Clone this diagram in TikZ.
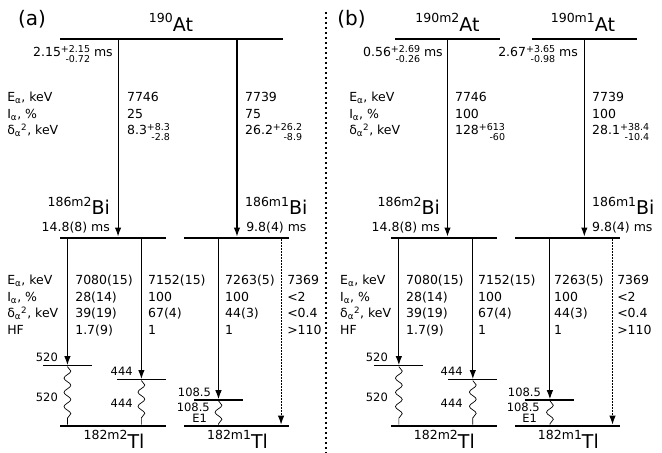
\documentclass[tikz,border=0pt]{standalone}
\usepackage{fontspec}
\setmainfont{DejaVu Sans}
\usetikzlibrary{decorations.pathmorphing, arrows.meta}

\tikzstyle{level}=[rectangle, fill=black, inner sep=0pt, minimum height=2.2pt]
\tikzstyle{sublevel}=[rectangle, fill=black, inner sep=0pt, minimum height=1.1pt, minimum width=1.72cm]
\tikzstyle{alpha_decay}=[-{Latex[length=9pt, width=6.5pt]}, line width=1.1pt]
\tikzstyle{weak_decay}=[-{Latex[length=9pt, width=6.5pt]}, line width=1pt, dash pattern=on 1.5pt off 1.5pt]
\tikzstyle{gamma_ray}=[decorate, decoration={snake, amplitude=0.12cm, segment length=0.5cm}, line width=0.7pt]
\tikzstyle{separator}=[line width=1.6pt, dash pattern=on 2pt off 3pt]
\tikzstyle{data_text}=[inner sep=0pt, align=left, font=\fontsize{12.5}{16.5}\selectfont]
\tikzstyle{small_text}=[inner sep=0pt, font=\fontsize{11.5}{13}\selectfont]
\tikzstyle{panel_text}=[inner sep=0pt, font=\fontsize{20}{24}\selectfont]

\newcommand{\nucl}[2]{\raisebox{8.5pt}{#1}{\fontsize{19}{22}\selectfont #2}}
\newcommand{\asym}[2]{{\fontsize{9.5}{10}\selectfont\setbox0\hbox{#1}\setbox2\hbox{#2}%
    \ifdim\wd0>\wd2 \dimen0=\wd0 \else \dimen0=\wd2 \fi
    \hspace{\dimen0}\llap{\raise4.5pt\box0}\llap{\lower6pt\box2}}}

\begin{document}
\begin{tikzpicture}
    \useasboundingbox (0cm, 0cm) rectangle (23.27cm, 15.92cm);
    % ---------------------------------------------------------------------------------------------------------
    %  (a) 190At
    \node at (0.63cm, 15.01cm) (panel-a) [panel_text, anchor=base west] {(a)};
    \node at (6.03cm, 14.55cm) (AtA) [level, minimum width=7.84cm] {};
    \node at (6.01cm, 14.82cm) (AtA-name) [data_text, anchor=base] {\nucl{190}{At}};
    \node at (3.97cm, 13.92cm) (AtA-life) [data_text, anchor=base east] {2.15\asym{+2.15}{-0.72} ms};

    \node at (0.25cm, 11.18cm) (AtA-keys) [data_text, anchor=base west] {E\textsubscript{α}, keV\\I\textsubscript{α}, \%\\δ\textsubscript{α}\textsuperscript{2}, keV};
    \node at (4.46cm, 11.18cm) (AtA-val1) [data_text, anchor=base west] {7746\\25\\8.3\asym{+8.3}{-2.8}};
    \node at (8.61cm, 11.18cm) (AtA-val2) [data_text, anchor=base west] {7739\\75\\26.2\asym{+26.2}{-8.9}};

    \node at (3.97cm, 7.56cm) (BiTwoA) [level, minimum width=3.73cm] {};
    \node at (8.31cm, 7.56cm) (BiOneA) [level, minimum width=3.69cm] {};
    \node at (3.87cm, 8.37cm) (BiTwoA-name) [data_text, anchor=base east] {\nucl{186m2}{Bi}};
    \node at (3.87cm, 7.80cm) (BiTwoA-life) [data_text, anchor=base east] {14.8(8) ms};
    \node at (8.61cm, 8.37cm) (BiOneA-name) [data_text, anchor=base west] {\nucl{186m1}{Bi}};
    \node at (8.65cm, 7.80cm) (BiOneA-life) [data_text, anchor=base west] {9.8(4) ms};

    \coordinate (a-x1) at (4.15cm, 0cm);
    \coordinate (a-x2) at (8.33cm, 0cm);
    \coordinate (a-x3) at (9.88cm, 0cm);
    \draw[alpha_decay] (AtA.south -| a-x1) -- (BiTwoA.north -| a-x1);
    \draw[alpha_decay] (AtA.south -| a-x2) -- (BiOneA.north -| a-x2);

    % 186Bi -> 182Tl
    \node at (0.25cm, 4.165cm) (BiA-keys) [data_text, anchor=base west] {E\textsubscript{α}, keV\\I\textsubscript{α}, \%\\δ\textsubscript{α}\textsuperscript{2}, keV\\HF};
    \node at (2.64cm, 4.165cm) (BiA-val1) [data_text, anchor=base west] {7080(15)\\28(14)\\39(19)\\1.7(9)};
    \node at (5.20cm, 4.165cm) (BiA-val2) [data_text, anchor=base west] {7152(15)\\100\\67(4)\\1};
    \node at (7.91cm, 4.165cm) (BiA-val3) [data_text, anchor=base west] {7263(5)\\100\\44(3)\\1};
    \node at (10.09cm, 4.165cm) (BiA-val4) [data_text, anchor=base west] {7369\\<2\\<0.4\\>110};

    \node at (3.97cm, 0.95cm) (TlTwoA) [level, minimum width=3.73cm] {};
    \node at (8.31cm, 0.95cm) (TlOneA) [level, minimum width=3.69cm] {};
    \node at (4.01cm, 0.16cm) (TlTwoA-name) [data_text, anchor=base] {\nucl{182m2}{Tl}};
    \node at (8.35cm, 0.16cm) (TlOneA-name) [data_text, anchor=base] {\nucl{182m1}{Tl}};

    \node at (2.37cm, 3.06cm) (ExA520) [sublevel] {};
    \node at (4.97cm, 2.57cm) (ExA444) [sublevel] {};
    \node at (7.68cm, 1.86cm) (ExA108) [sublevel] {};
    \node at (2.04cm, 3.20cm) (ExA520-e) [small_text, anchor=base east] {520};
    \node at (4.67cm, 2.71cm) (ExA444-e) [small_text, anchor=base east] {444};
    \node at (7.42cm, 1.97cm) (ExA108-e) [small_text, anchor=base east] {108.5};
    \node at (2.04cm, 1.97cm) (GaA520) [small_text, anchor=east] {520};
    \node at (4.67cm, 1.76cm) (GaA444) [small_text, anchor=east] {444};
    \node at (7.38cm, 1.60cm) (GaA108) [small_text, anchor=east] {108.5};
    \node at (7.28cm, 1.23cm) (GaA108-m) [small_text, anchor=east] {E1};

    \draw[alpha_decay] (BiTwoA.south -| ExA520) -- (ExA520.north);
    \draw[alpha_decay] (BiTwoA.south -| ExA444) -- (ExA444.north);
    \draw[alpha_decay] (BiOneA.south -| ExA108) -- (ExA108.north);
    \draw[weak_decay] (BiOneA.south -| a-x3) -- (TlOneA.north -| a-x3);
    \draw[gamma_ray] (ExA520.south) -- (TlTwoA.north -| ExA520);
    \draw[gamma_ray] (ExA444.south) -- (TlTwoA.north -| ExA444);
    \draw[gamma_ray] (ExA108.south) -- (TlOneA.north -| ExA108);

    % ---------------------------------------------------------------------------------------------------------
    \coordinate (sep-top) at (11.46cm, 15.5cm);
    \coordinate (sep-bot) at (11.46cm, 0cm);
    \draw[separator] (sep-top) -- (sep-bot);

    % ---------------------------------------------------------------------------------------------------------
    %  (b) 190m2At, 190m1At
    \node at (11.85cm, 15.01cm) (panel-b) [panel_text, anchor=base west] {(b)};
    \node at (15.73cm, 14.55cm) (AtTwoB) [level, minimum width=3.69cm] {};
    \node at (20.54cm, 14.55cm) (AtOneB) [level, minimum width=3.69cm] {};
    \node at (15.73cm, 14.82cm) (AtTwoB-name) [data_text, anchor=base] {\nucl{190m2}{At}};
    \node at (20.49cm, 14.82cm) (AtOneB-name) [data_text, anchor=base] {\nucl{190m1}{At}};
    \node at (15.57cm, 13.92cm) (AtTwoB-life) [data_text, anchor=base east] {0.56\asym{+2.69}{-0.26} ms};
    \node at (20.32cm, 13.92cm) (AtOneB-life) [data_text, anchor=base east] {2.67\asym{+3.65}{-0.98} ms};

    \node at (12.27cm, 11.18cm) (AtB-keys) [data_text, anchor=base west] {E\textsubscript{α}, keV\\I\textsubscript{α}, \%\\δ\textsubscript{α}\textsuperscript{2}, keV};
    \node at (15.99cm, 11.18cm) (AtB-val1) [data_text, anchor=base west] {7746\\100\\128\asym{+613}{-60}};
    \node at (20.81cm, 11.18cm) (AtB-val2) [data_text, anchor=base west] {7739\\100\\28.1\asym{+38.4}{-10.4}};

    \node at (15.62cm, 7.56cm) (BiTwoB) [level, minimum width=3.73cm] {};
    \node at (19.96cm, 7.56cm) (BiOneB) [level, minimum width=3.69cm] {};
    \node at (15.47cm, 8.37cm) (BiTwoB-name) [data_text, anchor=base east] {\nucl{186m2}{Bi}};
    \node at (15.47cm, 7.80cm) (BiTwoB-life) [data_text, anchor=base east] {14.8(8) ms};
    \node at (20.81cm, 8.37cm) (BiOneB-name) [data_text, anchor=base west] {\nucl{186m1}{Bi}};
    \node at (20.81cm, 7.80cm) (BiOneB-life) [data_text, anchor=base west] {9.8(4) ms};

    \draw[alpha_decay] (AtTwoB.south) -- (BiTwoB.north -| AtTwoB);
    \draw[alpha_decay] (AtOneB.south) -- (BiOneB.north -| AtOneB);

    % 186Bi -> 182Tl
    \node at (11.95cm, 4.165cm) (BiB-keys) [data_text, anchor=base west] {E\textsubscript{α}, keV\\I\textsubscript{α}, \%\\δ\textsubscript{α}\textsuperscript{2}, keV\\HF};
    \node at (14.27cm, 4.165cm) (BiB-val1) [data_text, anchor=base west] {7080(15)\\28(14)\\39(19)\\1.7(9)};
    \node at (16.80cm, 4.165cm) (BiB-val2) [data_text, anchor=base west] {7152(15)\\100\\67(4)\\1};
    \node at (19.47cm, 4.165cm) (BiB-val3) [data_text, anchor=base west] {7263(5)\\100\\44(3)\\1};
    \node at (21.69cm, 4.165cm) (BiB-val4) [data_text, anchor=base west] {7369\\<2\\<0.4\\>110};

    \node at (15.62cm, 0.95cm) (TlTwoB) [level, minimum width=3.73cm] {};
    \node at (19.96cm, 0.95cm) (TlOneB) [level, minimum width=3.69cm] {};
    \node at (15.62cm, 0.16cm) (TlTwoB-name) [data_text, anchor=base] {\nucl{182m2}{Tl}};
    \node at (19.98cm, 0.16cm) (TlOneB-name) [data_text, anchor=base] {\nucl{182m1}{Tl}};

    \node at (14.02cm, 3.06cm) (ExB520) [sublevel] {};
    \node at (16.62cm, 2.57cm) (ExB444) [sublevel] {};
    \node at (19.33cm, 1.86cm) (ExB108) [sublevel] {};
    \node at (13.64cm, 3.20cm) (ExB520-e) [small_text, anchor=base east] {520};
    \node at (16.27cm, 2.71cm) (ExB444-e) [small_text, anchor=base east] {444};
    \node at (19.02cm, 1.97cm) (ExB108-e) [small_text, anchor=base east] {108.5};
    \node at (13.64cm, 1.97cm) (GaB520) [small_text, anchor=east] {520};
    \node at (16.27cm, 1.76cm) (GaB444) [small_text, anchor=east] {444};
    \node at (18.98cm, 1.60cm) (GaB108) [small_text, anchor=east] {108.5};
    \node at (18.88cm, 1.23cm) (GaB108-m) [small_text, anchor=east] {E1};

    \coordinate (b-x3) at (21.53cm, 0cm);
    \draw[alpha_decay] (BiTwoB.south -| ExB520) -- (ExB520.north);
    \draw[alpha_decay] (BiTwoB.south -| ExB444) -- (ExB444.north);
    \draw[alpha_decay] (BiOneB.south -| ExB108) -- (ExB108.north);
    \draw[weak_decay] (BiOneB.south -| b-x3) -- (TlOneB.north -| b-x3);
    \draw[gamma_ray] (ExB520.south) -- (TlTwoB.north -| ExB520);
    \draw[gamma_ray] (ExB444.south) -- (TlTwoB.north -| ExB444);
    \draw[gamma_ray] (ExB108.south) -- (TlOneB.north -| ExB108);
\end{tikzpicture}
\end{document}
